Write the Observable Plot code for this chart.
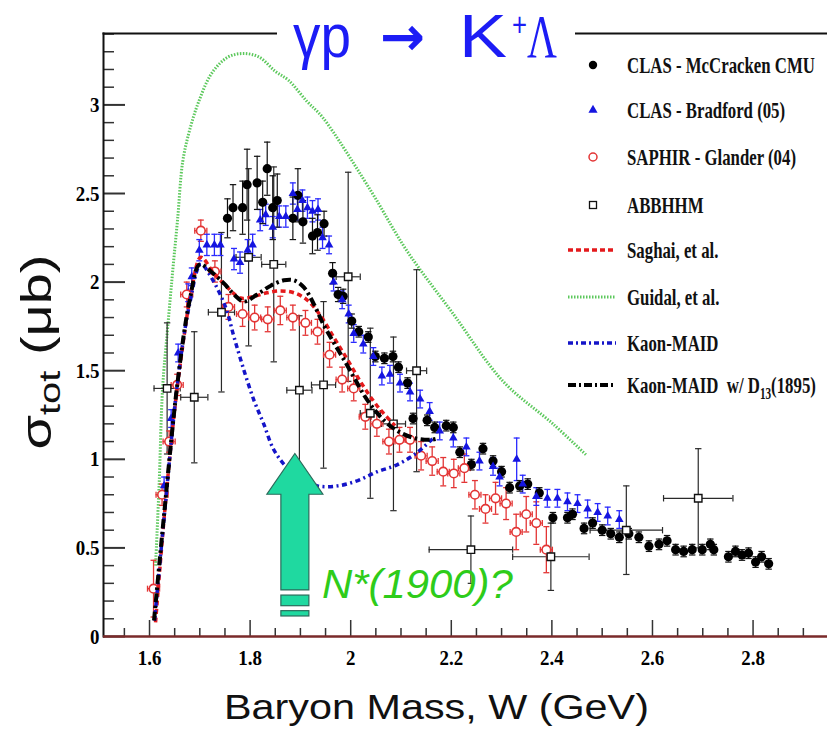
<!DOCTYPE html>
<html><head><meta charset="utf-8">
<script src="https://cdn.jsdelivr.net/npm/d3@7"></script>
<script src="https://cdn.jsdelivr.net/npm/@observablehq/plot@0.6"></script>
<style>
body{margin:0;background:#fff;}
#wrap{position:relative;width:827px;height:733px;overflow:hidden;background:#fff;}
#wrap svg{position:absolute;left:0;top:0;}
</style></head><body><div id="wrap"></div>
<script>
// ---------- data ----------
// CLAS - McCracken CMU (black filled circles)
const mcW = [1.755,1.766,1.785,1.794,1.814,1.825,1.834,1.845,1.854,1.885,1.895,1.905,1.924,1.934,1.947,1.964,1.975,1.985,2.002,2.016,2.035,2.049,2.067,2.084,2.095,2.113,2.124,2.152,2.167,2.190,2.204,2.217,2.240,2.263,2.283,2.300,2.316,2.336,2.352,2.375,2.402,2.431,2.441,2.464,2.481,2.500,2.517,2.534,2.553,2.573,2.593,2.613,2.629,2.646,2.662,2.679,2.699,2.715,2.722,2.751,2.765,2.778,2.791,2.805,2.817,2.831];
const mcS = [2.36,2.42,2.42,2.55,2.56,2.45,2.64,2.42,2.46,2.36,2.49,2.34,2.26,2.28,2.33,2.05,1.93,1.92,1.78,1.72,1.69,1.58,1.57,1.58,1.52,1.43,1.23,1.22,1.18,1.19,1.18,1.04,0.97,1.06,0.99,0.93,0.84,0.85,0.86,0.81,0.67,0.67,0.69,0.61,0.64,0.60,0.58,0.56,0.58,0.56,0.51,0.52,0.54,0.49,0.48,0.49,0.49,0.52,0.49,0.45,0.48,0.46,0.47,0.42,0.45,0.41];
const mcE = [0.11,0.13,0.15,0.20,0.15,0.12,0.15,0.18,0.15,0.12,0.15,0.12,0.10,0.10,0.07,0.06,0.04,0.04,0.04,0.03,0.03,0.03,0.03,0.03,0.03,0.03,0.03,0.03,0.03,0.03,0.03,0.03,0.03,0.03,0.03,0.03,0.03,0.03,0.03,0.03,0.03,0.03,0.03,0.03,0.03,0.03,0.03,0.03,0.03,0.03,0.03,0.03,0.03,0.03,0.03,0.03,0.03,0.03,0.03,0.03,0.03,0.03,0.03,0.03,0.03,0.03];
// CLAS - Bradford (05) (blue triangles)
const brW = [1.629,1.643,1.657,1.677,1.684,1.699,1.714,1.729,1.741,1.768,1.780,1.795,1.805,1.820,1.831,1.845,1.858,1.871,1.885,1.894,1.904,1.914,1.924,1.935,1.944,1.957,1.966,1.983,1.996,2.006,2.025,2.045,2.062,2.078,2.098,2.118,2.138,2.157,2.177,2.204,2.230,2.256,2.283,2.296,2.330,2.342,2.369,2.391,2.411,2.431,2.451,2.471,2.491,2.511,2.534];
const brS = [0.85,1.23,1.60,1.94,2.03,2.18,2.21,2.21,2.21,2.13,2.11,2.18,2.21,2.35,2.38,2.31,2.37,2.37,2.50,2.41,2.46,2.42,2.40,2.41,2.25,2.21,2.00,1.90,1.82,1.71,1.65,1.58,1.47,1.48,1.43,1.38,1.34,1.27,1.16,1.12,1.07,0.99,0.96,0.90,1.00,0.86,0.79,0.78,0.78,0.76,0.75,0.72,0.70,0.68,0.66];
const brE = [0.05,0.05,0.05,0.05,0.05,0.06,0.06,0.06,0.06,0.06,0.06,0.06,0.06,0.06,0.06,0.06,0.06,0.06,0.06,0.06,0.06,0.06,0.06,0.06,0.06,0.05,0.05,0.05,0.05,0.05,0.05,0.05,0.05,0.05,0.05,0.05,0.05,0.05,0.05,0.05,0.05,0.05,0.05,0.05,0.12,0.05,0.05,0.05,0.05,0.05,0.05,0.05,0.05,0.05,0.05];
// SAPHIR - Glander (04) (red open circles)
const saW = [1.608,1.625,1.639,1.655,1.674,1.702,1.730,1.757,1.785,1.809,1.835,1.860,1.885,1.910,1.934,1.958,1.983,2.006,2.029,2.052,2.076,2.097,2.118,2.140,2.162,2.184,2.205,2.226,2.247,2.268,2.288,2.309,2.329,2.349,2.369,2.389];
const saS = [0.27,0.80,1.10,1.42,1.93,2.29,2.06,1.86,1.82,1.80,1.79,1.84,1.80,1.77,1.72,1.59,1.45,1.40,1.24,1.20,1.10,1.11,1.11,1.02,0.99,0.93,0.92,0.95,0.80,0.72,0.78,0.75,0.59,0.69,0.64,0.49];
const saE = [0.16,0.06,0.06,0.06,0.07,0.06,0.06,0.07,0.07,0.07,0.07,0.08,0.07,0.07,0.07,0.07,0.07,0.07,0.07,0.07,0.07,0.07,0.07,0.08,0.08,0.08,0.08,0.08,0.08,0.08,0.09,0.09,0.10,0.10,0.12,0.13];
// ABBHHM (open squares)
const abW = [1.635,1.689,1.743,1.797,1.847,1.898,1.946,1.995,2.039,2.085,2.131,2.239,2.398,2.548,2.691];
const abS = [1.40,1.35,1.83,2.14,2.10,1.39,1.42,2.03,1.26,1.20,1.50,0.49,0.45,0.60,0.78];
const abE = [0.37,0.37,0.45,0.50,0.55,0.42,0.47,0.59,0.48,0.49,0.57,0.19,0.19,0.25,0.28];
const abXE = [0.026,0.027,0.026,0.025,0.024,0.025,0.024,0.024,0.020,0.024,0.020,0.083,0.076,0.072,0.069];
// model curves
const saghaiW = [1.612,1.630,1.650,1.670,1.685,1.702,1.728,1.755,1.781,1.808,1.834,1.860,1.887,1.913,1.940,1.966,1.992,2.019,2.045,2.065,2.088];
const saghaiS = [0.08,0.70,1.28,1.72,1.98,2.14,2.05,1.97,1.91,1.92,1.94,1.95,1.94,1.90,1.81,1.69,1.57,1.44,1.33,1.26,1.19];
const guidalW = [1.612,1.619,1.626,1.636,1.646,1.656,1.666,1.680,1.698,1.724,1.756,1.787,1.818,1.850,1.876,1.913,1.944,2.039,2.111,2.204,2.303,2.402,2.470];
const guidalS = [0.40,0.85,1.40,1.74,2.06,2.36,2.68,2.86,3.02,3.18,3.27,3.29,3.27,3.19,3.14,3.02,2.93,2.52,2.18,1.82,1.44,1.20,1.02];
const maidW = [1.610,1.630,1.656,1.680,1.702,1.722,1.751,1.768,1.788,1.808,1.827,1.846,1.868,1.901,1.934,1.974,2.014,2.053,2.093,2.133,2.164];
const maidS = [0.09,0.70,1.44,1.88,2.10,2.03,1.86,1.69,1.50,1.33,1.20,1.06,0.97,0.89,0.85,0.85,0.88,0.93,0.97,1.04,1.12];
const maidD13W = [1.609,1.629,1.656,1.680,1.700,1.722,1.749,1.768,1.788,1.814,1.841,1.867,1.887,1.907,1.926,1.946,1.966,1.987,2.007,2.027,2.047,2.066,2.093,2.126,2.159,2.175];
const maidD13S = [0.09,0.69,1.44,1.90,2.10,2.06,1.99,1.93,1.89,1.93,1.98,2.01,2.01,1.97,1.88,1.76,1.66,1.56,1.46,1.36,1.28,1.22,1.16,1.12,1.11,1.12];
// axes / text
const xMajor = [1.6,1.8,2,2.2,2.4,2.6,2.8];
const yMajor = [0,0.5,1,1.5,2,2.5,3];
const xMinor = d3.range(31).map(i => +(1.55 + i*0.05).toFixed(2)).filter(v => !xMajor.includes(v));
const yMinor = d3.range(35).map(i => +(i*0.1).toFixed(1)).filter(v => !yMajor.includes(v));
const legendLabels = ["CLAS - McCracken CMU","CLAS - Bradford (05)","SAPHIR - Glander (04)","ABBHHM","Saghai, et al.","Guidal, et al.","Kaon-MAID","Kaon-MAID\u00a0\u00a0w/ D"];
const titleText = ["\u03b3p", "\u2192", "K", "+", "\u039b"];
const xLabel = "Baryon Mass, W (GeV)";
const annText = "N*(1900)?";
const annW = 1.890, annTextW = 1.944;

// ---------- layout ----------
const width = 827, height = 733, mL = 103, mT = 33, mR = 0, mB = 97;
const fw = width - mL - mR, fh = height - mT - mB;
const pts = (W, S, E, XE) => W.map((w, i) => ({W: w, s: S[i], e: E ? E[i] : 0, xe: XE ? XE[i] : 0}));
const mc = pts(mcW, mcS, mcE), br = pts(brW, brS, brE), sa = pts(saW, saS, saE, saW.map(() => 0.012)), ab = pts(abW, abS, abE, abXE);
const curve = (W, S) => W.map((w, i) => ({W: w, s: S[i]}));

const hcap = {draw(ctx, size){const r = Math.sqrt(size/Math.PI); ctx.moveTo(-r,0); ctx.lineTo(r,0);}};
const vcap = {draw(ctx, size){const r = Math.sqrt(size/Math.PI); ctx.moveTo(0,-r); ctx.lineTo(0,r);}};
function errY(data, color, capR, sw){ return [
  Plot.ruleX(data, {x:"W", y1:d=>d.s-d.e, y2:d=>d.s+d.e, stroke:color, strokeWidth:sw}),
  Plot.dot(data, {x:"W", y:d=>d.s+d.e, symbol:hcap, r:capR, stroke:color, strokeWidth:sw, fill:"none"}),
  Plot.dot(data, {x:"W", y:d=>d.s-d.e, symbol:hcap, r:capR, stroke:color, strokeWidth:sw, fill:"none"})
];}
function errX(data, color, capR, sw){ return [
  Plot.ruleY(data, {y:"s", x1:d=>d.W-d.xe, x2:d=>d.W+d.xe, stroke:color, strokeWidth:sw}),
  Plot.dot(data, {x:d=>d.W-d.xe, y:"s", symbol:vcap, r:capR, stroke:color, strokeWidth:sw, fill:"none"}),
  Plot.dot(data, {x:d=>d.W+d.xe, y:"s", symbol:vcap, r:capR, stroke:color, strokeWidth:sw, fill:"none"})
];}

const C = {black:"#000", blue:"#1515e0", red:"#e33535", green:"#5cc85c", sag:"#e41a1c", maid:"#1414c8", abb:"#2a2a2a"};
const tickFont = {fontSize:22, fontWeight:"bold", fontFamily:"Liberation Serif, serif"};
const dashed = {strokeLinecap:"butt", strokeLinejoin:"miter", curve:"catmull-rom"};

const plot = Plot.plot({
  width, height, marginLeft:mL, marginTop:mT, marginRight:mR, marginBottom:mB,
  x:{domain:[1.5085, 2.948], axis:null},
  y:{domain:[0, 3.403], axis:null},
  style:{background:"white", color:"black", overflow:"visible"},
  marks:[
    Plot.line(curve(guidalW, guidalS), {x:"W", y:"s", stroke:C.green, strokeWidth:3, strokeDasharray:"1.5,1.5", ...dashed}),
    ...errY(ab, C.abb, 3.2, 1.2), ...errX(ab, C.abb, 3.2, 1.2),
    ...errY(sa, C.red, 3, 1.3), ...errX(sa, C.red, 3, 1.3),
    ...errY(br, "#2a2aff", 3, 1.3),
    ...errY(mc, "#111", 3.2, 1.2),
    Plot.dot(mc, {x:"W", y:"s", r:4.6, fill:C.black, stroke:"none"}),
    Plot.dot(br, {x:"W", y:"s", symbol:"triangle", r:3.2, fill:C.blue, stroke:"none"}),
    Plot.dot(sa, {x:"W", y:"s", r:4.3, fill:"white", stroke:C.red, strokeWidth:1.6}),
    Plot.dot(ab, {x:"W", y:"s", symbol:"square", r:4.2, fill:"white", stroke:"#111", strokeWidth:1.4}),
    Plot.line(curve(saghaiW, saghaiS), {x:"W", y:"s", stroke:C.sag, strokeWidth:3.5, strokeDasharray:"5,3.5", ...dashed}),
    Plot.line(curve(maidW, maidS), {x:"W", y:"s", stroke:C.maid, strokeWidth:3.5, strokeDasharray:"5,3.5,2,3.5", ...dashed}),
    Plot.line(curve(maidD13W, maidD13S), {x:"W", y:"s", stroke:"#000", strokeWidth:4, strokeDasharray:"9,3.5,2.5,3.5", ...dashed}),
    // axes
    Plot.tickY(yMinor, {y:d=>d, insetRight:fw-11, stroke:"#333", strokeWidth:1.5}),
    Plot.tickY(yMajor, {y:d=>d, insetRight:fw-22, stroke:"#333", strokeWidth:2}),
    Plot.tickX(xMinor, {x:d=>d, insetTop:fh-8, stroke:"#333", strokeWidth:1.5}),
    Plot.tickX(xMajor, {x:d=>d, insetTop:fh-16, stroke:"#333", strokeWidth:1.5}),
    Plot.frame({anchor:"left", stroke:"#111", strokeWidth:2}),
    Plot.frame({anchor:"top", stroke:"#111", strokeWidth:2}),
    Plot.ruleY([0], {stroke:"#7a2a2a", strokeWidth:2.5}),
    Plot.axisX(xMajor, {tickSize:0, tickPadding:13, label:null, tickFormat:d=>String(d), ...tickFont}),
    Plot.axisY(yMajor, {tickSize:0, tickPadding:4, label:null, tickFormat:d=>String(d), ...tickFont})
  ]
});
document.getElementById("wrap").appendChild(plot);
plot.querySelectorAll('g[aria-label="x-axis tick label"] text, g[aria-label="y-axis tick label"] text').forEach(t => {
  const tr = t.getAttribute("transform"); if (tr) t.setAttribute("transform", tr + " scale(0.86,1)");
});

// ---------- overlay: title, labels, legend, annotation ----------
const xs = plot.scale("x"), ys = plot.scale("y");
const ov = d3.select("#wrap").append("svg").attr("width", width).attr("height", height);
const fit = (sel, target) => { const w = sel.node().getBBox().width; sel.attr("transform", `scale(${target/w},1)`); };

// title (each piece placed where the reference shows it)
ov.append("rect").attr("x", 277).attr("y", 18).attr("width", 298).attr("height", 28).attr("fill", "white");
const titleBlue = "#1c1cf5";
const titlePieces = [
  {t:titleText[0], x:293, y:57, w:58, size:62, fam:"Liberation Sans, Arial, sans-serif", wt:"normal"},
  {t:titleText[1], x:380, y:55, w:45, size:54, fam:"DejaVu Sans, sans-serif", wt:"bold"},
  {t:titleText[2], x:459, y:57, w:48, size:62, fam:"Liberation Sans, Arial, sans-serif", wt:"normal"},
  {t:titleText[3], x:512, y:36, w:15, size:34, fam:"Liberation Sans, Arial, sans-serif", wt:"normal"},
  {t:titleText[4], x:527, y:57, w:30, size:62, fam:"Liberation Serif, serif", wt:"normal"}
];
titlePieces.forEach(p => {
  const g = ov.append("g").attr("transform", `translate(${p.x},${p.y})`);
  const t = g.append("text").attr("font-family", p.fam).attr("font-size", p.size).attr("font-weight", p.wt).attr("fill", titleBlue).text(p.t);
  fit(t, p.w);
});

// x label
const xg = ov.append("g").attr("transform", "translate(224,719)");
const xt = xg.append("text").attr("font-family", "Liberation Sans, Arial, sans-serif").attr("font-size", 35).attr("fill", "#111").text(xLabel);
fit(xt, 425);

// y label
const yg = ov.append("g").attr("transform", "translate(51,352) rotate(-90)");
const yt = yg.append("text").attr("text-anchor", "middle").attr("font-family", "Liberation Sans, Arial, sans-serif").attr("font-size", 42).attr("fill", "#111");
yt.append("tspan").text("\u03c3");
yt.append("tspan").attr("font-size", 30).attr("dy", 9).text("tot");
yt.append("tspan").attr("dy", -9).text("\u00a0(\u03bcb)");
fit(yt, 195);

// legend
const rowsY = [65,110,157,205,250,297,343,385];
const lg = ov.append("g");
const mx = 593;
lg.append("circle").attr("cx", mx).attr("cy", rowsY[0]).attr("r", 4.2).attr("fill", "#000");
lg.append("path").attr("d", d3.symbol(d3.symbolTriangle, 36)()).attr("transform", `translate(${mx},${rowsY[1]})`).attr("fill", C.blue);
lg.append("circle").attr("cx", mx).attr("cy", rowsY[2]).attr("r", 4).attr("fill", "white").attr("stroke", C.red).attr("stroke-width", 1.5);
lg.append("rect").attr("x", mx-3.5).attr("y", rowsY[3]-3.5).attr("width", 7).attr("height", 7).attr("fill", "white").attr("stroke", "#111").attr("stroke-width", 1.3);
const lineStyles = [[C.sag, "5,3", 3.5], [C.green, "1.5,1.5", 3], [C.maid, "5,3,2,3", 3.5], ["#000", "8,3,2,3", 4]];
lineStyles.forEach((s, i) => lg.append("line").attr("x1", 568).attr("x2", 616).attr("y1", rowsY[4+i]).attr("y2", rowsY[4+i])
  .attr("stroke", s[0]).attr("stroke-dasharray", s[1]).attr("stroke-width", s[2]));
legendLabels.forEach((lab, i) => {
  const g = lg.append("g").attr("transform", `translate(627,${rowsY[i]+8}) scale(0.7,1)`);
  const t = g.append("text").attr("font-family", "Liberation Serif, serif").attr("font-weight", "bold").attr("font-size", 24).attr("fill", "#111");
  t.append("tspan").text(lab);
  if (i === 7) { t.append("tspan").attr("font-size", 16).attr("dy", 6).text("13"); t.append("tspan").attr("dy", -6).text("(1895)"); }
});

// annotation arrow
const cx = xs.apply(annW), tip = ys.apply(1.03), hb = ys.apply(0.80), sb = ys.apply(0.26);
ov.append("path").attr("d", `M${cx},${tip}L${cx+28},${hb}L${cx+14},${hb}L${cx+14},${sb}L${cx-14},${sb}L${cx-14},${hb}L${cx-28},${hb}Z`)
  .attr("fill", "#1fd9a0").attr("stroke", "#2b6b5b").attr("stroke-width", 1.2);
[[0.231, 0.171], [0.143, 0.113]].forEach(b => ov.append("rect").attr("x", cx-14).attr("width", 28)
  .attr("y", ys.apply(b[0])).attr("height", ys.apply(b[1]) - ys.apply(b[0])).attr("fill", "#1fd9a0").attr("stroke", "#2b6b5b").attr("stroke-width", 1.2));
const ag = ov.append("g").attr("transform", `translate(${xs.apply(annTextW)},${ys.apply(0.214)})`);
const at = ag.append("text").attr("font-family", "Liberation Sans, Arial, sans-serif").attr("font-style", "italic").attr("font-size", 41).attr("fill", "#2ecc1a").text(annText);
fit(at, 191);
</script></body></html>
